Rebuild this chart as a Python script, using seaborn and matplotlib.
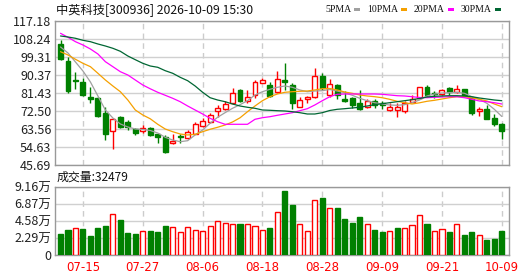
import numpy as np
import pandas as pd
import matplotlib
matplotlib.use('Agg')
import matplotlib.pyplot as plt
from matplotlib.patches import Rectangle
import seaborn as sns

#%% data

opens = [105.77, 97.18, 87.89, 87.05, 79.30, 78.81, 71.36, 62.57, 69.37, 66.89,
         63.42, 62.57, 64.06, 60.93, 59.74, 56.46, 60.09, 58.95, 61.08, 65.20,
         67.19, 72.35, 73.34, 76.32, 82.93, 77.47, 80.45, 86.55, 85.41, 81.79,
         87.89, 85.41, 74.64, 78.61, 79.60, 90.03, 80.45, 85.26, 78.46, 78.81,
         76.62, 74.34, 77.32, 76.32, 73.00, 73.00, 72.50, 77.12, 78.81, 84.27,
         81.44, 80.79, 83.77, 82.08, 83.27, 78.81, 72.50, 73.49, 69.03, 65.90]
highs = [107.75, 99.16, 91.86, 88.74, 84.57, 79.60, 74.34, 68.88, 70.02, 68.03,
         64.06, 65.55, 64.71, 61.23, 60.59, 60.93, 60.93, 63.07, 67.19, 68.88,
         71.66, 75.33, 77.47, 83.77, 83.57, 82.93, 87.89, 88.74, 86.75, 92.51,
         96.18, 86.25, 79.60, 79.95, 94.00, 91.22, 88.39, 85.76, 82.58, 79.60,
         82.93, 78.31, 78.31, 77.61, 76.32, 76.32, 77.47, 80.45, 84.57, 85.41,
         82.43, 83.27, 84.57, 85.41, 83.57, 79.60, 74.64, 75.48, 71.01, 66.39]
lows = [97.82, 81.59, 83.57, 79.95, 76.32, 69.37, 58.10, 53.49, 63.91, 63.07,
        60.59, 61.43, 60.09, 56.46, 51.80, 56.12, 56.46, 58.45, 60.93, 64.71,
        66.54, 69.37, 73.00, 75.98, 77.12, 76.62, 79.10, 86.25, 79.60, 81.29,
        82.93, 73.34, 74.34, 76.32, 79.10, 82.93, 79.60, 78.46, 77.12, 73.84,
        73.00, 74.14, 73.84, 73.64, 72.50, 69.67, 71.66, 76.82, 78.61, 80.10,
        79.10, 80.30, 80.45, 81.59, 79.60, 70.66, 70.17, 68.38, 65.05, 58.75]
closes = [98.17, 82.28, 87.64, 80.45, 78.31, 70.02, 60.93, 68.53, 64.71, 64.41,
          61.73, 64.21, 60.59, 59.74, 52.00, 57.61, 59.44, 62.22, 65.90, 67.69,
          70.37, 73.84, 75.98, 81.29, 77.61, 79.30, 86.75, 87.89, 80.10, 88.24,
          86.90, 76.62, 77.96, 79.30, 89.88, 83.77, 85.76, 80.30, 77.61, 75.48,
          73.49, 77.61, 75.48, 75.33, 74.34, 74.34, 76.62, 78.31, 84.27, 80.45,
          80.79, 82.78, 81.79, 83.27, 80.10, 71.66, 73.64, 68.68, 66.20, 62.72]

ma5 = [104.28, 101.30, 96.83, 92.36, 86.90, 79.95, 73.00, 69.03, 66.05, 64.56,
       63.56, 63.32, 62.82, 61.58, 59.44, 58.10, 57.26, 57.75, 60.59, 63.07,
       66.39, 69.37, 71.66, 73.84, 75.63, 77.61, 80.45, 82.08, 83.27, 84.27,
       84.91, 84.27, 82.93, 82.08, 82.43, 82.58, 83.18, 82.43, 81.59, 80.30,
       78.81, 77.61, 76.62, 75.98, 75.48, 75.33, 75.63, 76.62, 77.96, 79.95,
       80.94, 81.44, 81.59, 81.79, 81.29, 79.60, 78.31, 76.32, 73.34, 69.80]
ma10 = [101.94, 100.31, 98.17, 96.18, 94.50, 91.22, 87.89, 84.91, 82.08, 77.96,
        73.00, 70.52, 68.63, 65.90, 63.56, 62.22, 61.08, 60.59, 60.93, 62.22,
        63.42, 64.41, 65.55, 67.04, 69.12, 72.15, 74.98, 77.61, 79.60, 80.94,
        81.79, 82.08, 82.28, 82.43, 82.93, 83.57, 83.67, 82.93, 81.93, 81.29,
        80.45, 79.95, 79.60, 79.10, 78.31, 77.32, 76.62, 75.98, 76.57, 77.32,
        77.81, 78.46, 79.10, 79.60, 79.60, 78.96, 78.31, 77.47, 75.98, 74.64]
ma20 = [111.08, 109.09, 106.91, 105.27, 103.28, 100.80, 96.98, 94.50, 92.01, 90.38,
        87.89, 85.41, 83.52, 81.79, 80.30, 78.81, 77.12, 74.98, 73.00, 71.01,
        68.88, 67.19, 65.90, 65.90, 65.90, 65.90, 68.38, 69.17, 69.67, 70.37,
        71.01, 71.66, 72.65, 73.64, 75.48, 77.61, 79.60, 80.79, 80.94, 80.94,
        80.94, 80.94, 80.94, 80.79, 80.45, 80.10, 79.95, 79.60, 79.20, 79.10,
        79.30, 79.45, 79.60, 79.60, 79.10, 78.31, 77.47, 77.12, 76.62, 75.98]
ma30 = [109.74, 109.24, 108.60, 107.60, 106.91, 105.77, 104.77, 103.63, 102.14, 99.81,
        97.97, 96.18, 94.84, 94.20, 92.51, 91.22, 89.23, 87.54, 84.91, 81.79,
        79.10, 77.96, 77.12, 75.98, 74.98, 74.34, 73.84, 73.00, 72.85, 72.65,
        72.50, 72.15, 71.66, 71.01, 71.01, 71.66, 72.75, 73.34, 73.64, 73.99,
        74.34, 74.98, 75.63, 76.12, 76.62, 77.12, 77.61, 78.11, 78.71, 79.45,
        79.80, 79.95, 80.10, 80.10, 79.95, 79.60, 78.96, 78.46, 77.96, 77.61]

volume = [28500, 33900, 36100, 35200, 25800, 36500, 39200, 54900, 47300, 29900,
          28500, 32500, 32500, 31200, 39200, 37500, 31200, 37500, 33900, 32500,
          38800, 45900, 42800, 41500, 41900, 41500, 38800, 33900, 36500, 57600,
          86100, 67300, 41500, 32500, 73600, 76700, 62900, 63300, 48200, 43200,
          51300, 41500, 33900, 31200, 32500, 36500, 36500, 40200, 53500, 41900,
          32500, 35200, 31200, 41500, 27200, 31200, 26800, 20900, 21800, 32479]
vol_up = [0, 0, 1, 0, 0, 0, 0, 1, 0, 0, 0, 1, 0, 0, 0, 1, 1, 1, 1, 1,
          1, 1, 1, 1, 0, 1, 1, 1, 0, 1, 0, 0, 1, 1, 1, 0, 1, 0, 0, 0,
          0, 1, 0, 0, 1, 0, 1, 1, 1, 0, 1, 1, 0, 1, 0, 0, 1, 0, 0, 0]

tick_idx = [3, 11, 19, 27, 35, 43, 51, 59]
tick_labels = ['07-15', '07-27', '08-06', '08-18', '08-28', '09-09', '09-21', '10-09']

price_ticks = [45.69, 54.63, 63.56, 72.50, 81.43, 90.37, 99.31, 108.24, 117.18]
vol_ticks = [0, 22900, 45800, 68700, 91600]
vol_tick_labels = ['0', '2.29万', '4.58万', '6.87万', '9.16万']

ma_names = ['5PMA', '10PMA', '20PMA', '30PMA']
ma_colors = ['#a0a0a0', '#f5a000', '#ff00ff', '#006633']

#%% style

sns.set_theme(style='white')
plt.rcParams['font.family'] = ['Noto Sans CJK SC', 'DejaVu Sans']

RED = '#ff0000'
GREEN = '#008000'

df = pd.DataFrame({'i': np.arange(len(closes)), 'open': opens, 'high': highs,
                   'low': lows, 'close': closes, 'vol': volume, 'vol_up': vol_up,
                   '5PMA': ma5, '10PMA': ma10, '20PMA': ma20, '30PMA': ma30})

fig = plt.figure(figsize=(5.3, 2.76), dpi=100)
ax = fig.add_axes([0.1047, 0.4022, 0.8562, 0.5217])
axv = fig.add_axes([0.1047, 0.075, 0.8562, 0.2486])

#%% candles

w = 0.66
for _, r in df.iterrows():
    up = r['close'] > r['open']
    col = RED if up else GREEN
    lo_b, hi_b = sorted([r['open'], r['close']])
    ax.vlines(r['i'], r['low'], r['high'], color=col, lw=1, zorder=2)
    h = max(hi_b - lo_b, 0.25)
    ax.bar(r['i'], h, bottom=lo_b, width=w, color='white' if up else col,
           edgecolor=col, linewidth=1, zorder=3)

for name, c in zip(ma_names, ma_colors):
    sns.lineplot(data=df, x='i', y=name, color=c, lw=0.9, ax=ax, zorder=4)

ax.set_xlim(-0.67, 60.0)
ax.set_ylim(45.69, 117.18)
ax.set_yticks(price_ticks)
ax.set_yticklabels([f'{t:.2f}' for t in price_ticks])
ax.set_xticks(tick_idx)
ax.set_xticklabels([])
ax.set_xlabel('')
ax.set_ylabel('')

#%% volume

for _, r in df.iterrows():
    col = RED if r['vol_up'] else GREEN
    axv.bar(r['i'], r['vol'], width=0.68, color='white' if r['vol_up'] else col,
            edgecolor=col, linewidth=1, zorder=3)

axv.set_xlim(-0.67, 60.0)
axv.set_ylim(0, 91600)
axv.set_yticks(vol_ticks)
axv.set_yticklabels(vol_tick_labels)
axv.set_xticks(tick_idx)
axv.set_xticklabels(tick_labels, color=RED, fontsize=8.5, family='DejaVu Sans')

for a in (ax, axv):
    a.tick_params(axis='y', length=0, pad=3, labelsize=9, labelcolor='#222222')
    a.grid(axis='y', color='#d0d0d0', lw=1, ls='-', zorder=0)
    a.grid(axis='x', color='#cccccc', lw=1, ls=(0, (4, 3)), zorder=0)
    for s in a.spines.values():
        s.set_color('#999999')
        s.set_linewidth(1)
axv.tick_params(axis='x', length=0, labelcolor=RED, labelsize=8.5, pad=4)

#%% texts

fig.text(0.106, 0.966, '中英科技[300936] 2026-10-09 15:30', fontsize=8.8,
         ha='left', va='center', color='#111111')
fig.text(0.106, 0.358, '成交量:32479', fontsize=8.6, ha='left', va='center',
         color='#111111')

# legend: label then coloured dash, laid out left to right
x = 325
for name, c in zip(ma_names, ma_colors):
    t = fig.text(x / 530, 0.966, name, fontsize=7.0, family='Liberation Serif',
                 ha='left', va='center', color='#111111')
    fig.canvas.draw()
    x1 = t.get_window_extent().x1
    fig.patches.append(Rectangle(((x1 + 3) / 530, 0.966 - 1.5 / 276), 6 / 530, 3 / 276,
                                 transform=fig.transFigure, color=c, lw=0))
    x = x1 + 16

fig.savefig('out.png', dpi=100)
